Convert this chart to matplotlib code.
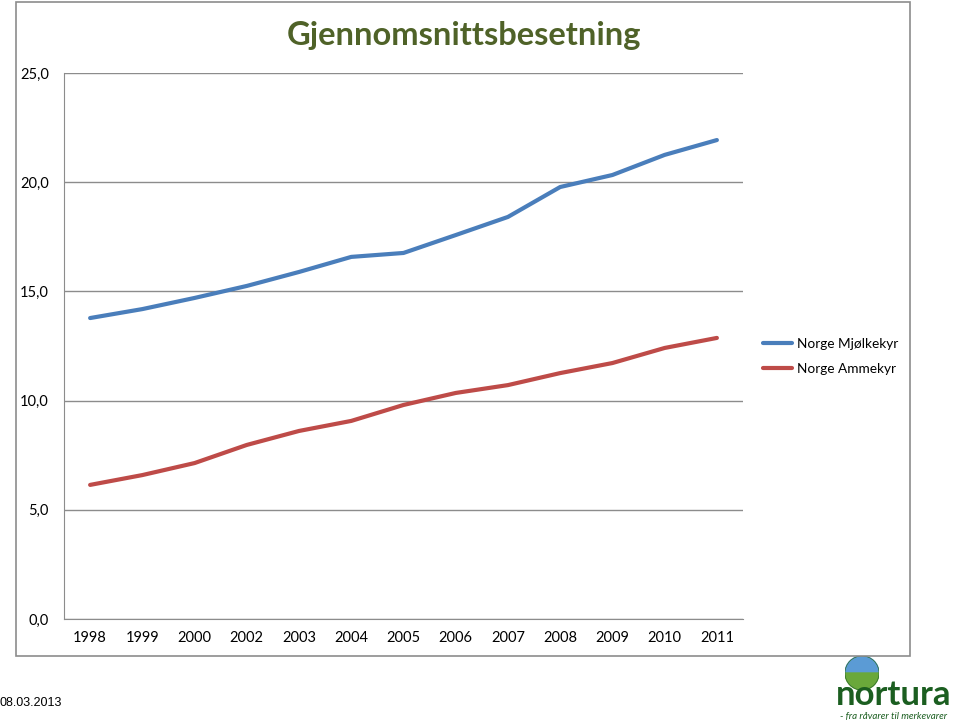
import matplotlib
matplotlib.use('Agg')
import matplotlib.pyplot as plt
from matplotlib.patches import Rectangle, Circle, Wedge

# Data
Years = ['1998', '1999', '2000', '2002', '2003', '2004', '2005',
         '2006', '2007', '2008', '2009', '2010', '2011']
Mjolkekyr = [13.78, 14.19, 14.70, 15.25, 15.89, 16.58, 16.76,
             17.58, 18.41, 19.78, 20.33, 21.25, 21.93]
Ammekyr = [6.14, 6.59, 7.14, 7.97, 8.61, 9.07, 9.80,
           10.35, 10.71, 11.26, 11.72, 12.41, 12.87]
YTicks = [0, 5, 10, 15, 20, 25]

plt.rcParams['font.family'] = ['Lato', 'DejaVu Sans']

fig = plt.figure(figsize=(9.59, 7.21), dpi=100)

# Outer chart frame
fig.patches.append(Rectangle((16/959, 1 - 656/721), (910-16)/959, (656-2)/721,
                             transform=fig.transFigure, fill=False,
                             edgecolor='#8c8c8c', linewidth=1.2, zorder=5))

ax = fig.add_axes([64/959, 1 - 619/721, (743-64)/959, (619-73)/721])

x = range(len(Years))
ax.plot(x, Mjolkekyr, color='#4a7ebb', linewidth=3, label='Norge Mjølkekyr',
        solid_capstyle='round')
ax.plot(x, Ammekyr, color='#be4b48', linewidth=3, label='Norge Ammekyr',
        solid_capstyle='round')

ax.set_xlim(-0.5, len(Years) - 0.5)
ax.set_ylim(0, 25)
ax.set_yticks(YTicks)
ax.set_yticklabels([f'{v:.1f}'.replace('.', ',') for v in YTicks])
ax.set_xticks(list(x))
ax.set_xticklabels(Years)
ax.tick_params(length=0, labelsize=10.5, colors='black')
ax.tick_params(axis='y', pad=11)
ax.tick_params(axis='x', pad=9)

ax.grid(axis='y', color='#8c8c8c', linewidth=1)
ax.set_axisbelow(True)
for side in ['top', 'right']:
    ax.spines[side].set_visible(False)
ax.spines['left'].set_color('#8c8c8c')
ax.spines['bottom'].set_color('#8c8c8c')

ax.legend(loc='upper left', bbox_to_anchor=(1.012, 0.537), frameon=False,
          fontsize=9.8, handlelength=2.1, handletextpad=0.4, labelspacing=0.95)

fig.text(464/959, 1 - 36/721, 'Gjennomsnittsbesetning', ha='center', va='center',
         fontsize=23.5, weight='bold', color='#4f6228')

# Date in the footer
fig.text(0, 1 - 703/721, '08.03.2013', ha='left', va='center',
         fontsize=9, family='Liberation Sans')

# Rough Nortura logo
globe = fig.add_axes([845/959, 1 - 690/721, 34/959, 34/721])
globe.set_xlim(-1, 1)
globe.set_ylim(-1, 1)
globe.set_aspect('equal')
globe.axis('off')
globe.add_patch(Wedge((0, 0), 1, 0, 180, color='#5b9bd5'))
globe.add_patch(Wedge((0, 0), 1, 180, 360, color='#6aa83a'))
globe.add_patch(Circle((0, 0), 1, fill=False, edgecolor='#2f6f2f', linewidth=0.5))
fig.text(894/959, 1 - 705/721, 'nortura', ha='center', va='baseline',
         fontsize=25, weight='bold', color='#1b5e20')
fig.text(894/959, 1 - 716.5/721, '- fra råvarer til merkevarer', ha='center', va='center',
         fontsize=7, style='italic', color='#1b5e20')

fig.savefig('out.png', dpi=100)
